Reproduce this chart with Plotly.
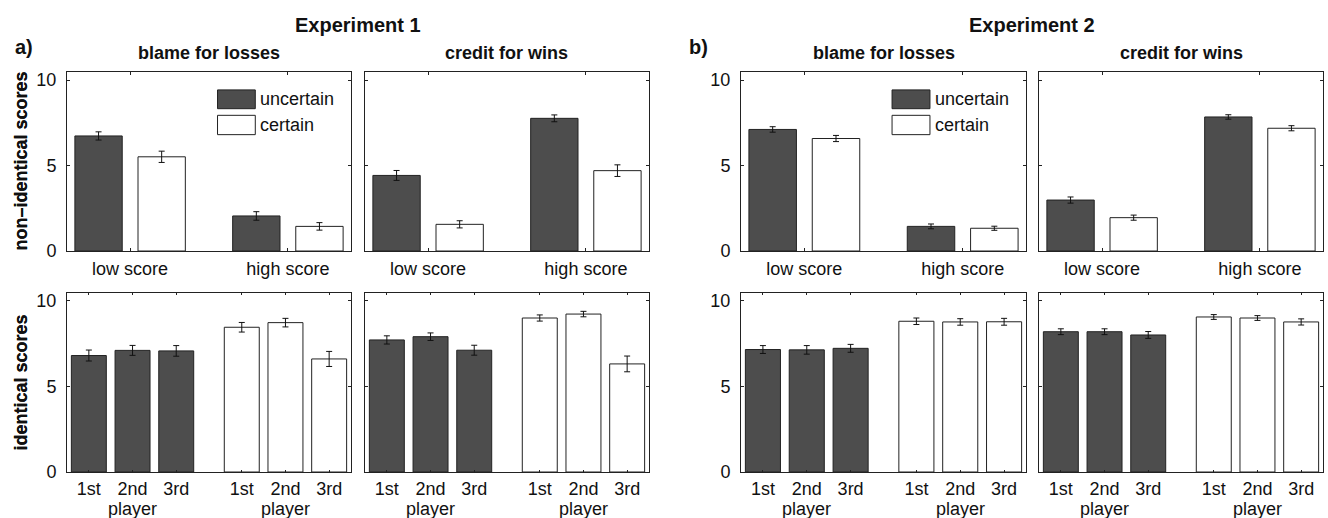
import plotly.graph_objects as go

# ---------------- data ----------------
score_cats = ["low score", "high score"]
player_labels = ["1st", "2nd", "3rd"]
conditions = ["uncertain", "certain"]
experiments = ["Experiment 1", "Experiment 2"]
panel_letters = ["a)", "b)"]
measures = ["blame for losses", "credit for wins"]

# top row: non-identical scores  [experiment][measure][condition] -> values per score category
nonid_mean = {
    ("Experiment 1", "blame for losses"): {"uncertain": [6.73, 2.05], "certain": [5.51, 1.44]},
    ("Experiment 1", "credit for wins"):  {"uncertain": [4.42, 7.76], "certain": [1.56, 4.70]},
    ("Experiment 2", "blame for losses"): {"uncertain": [7.11, 1.44], "certain": [6.58, 1.33]},
    ("Experiment 2", "credit for wins"):  {"uncertain": [2.98, 7.84], "certain": [1.95, 7.18]},
}
nonid_err = {
    ("Experiment 1", "blame for losses"): {"uncertain": [0.24, 0.25], "certain": [0.33, 0.22]},
    ("Experiment 1", "credit for wins"):  {"uncertain": [0.29, 0.20], "certain": [0.21, 0.34]},
    ("Experiment 2", "blame for losses"): {"uncertain": [0.16, 0.14], "certain": [0.18, 0.12]},
    ("Experiment 2", "credit for wins"):  {"uncertain": [0.18, 0.13], "certain": [0.15, 0.15]},
}
# bottom row: identical scores, per player (1st, 2nd, 3rd)
id_mean = {
    ("Experiment 1", "blame for losses"): {"uncertain": [6.80, 7.10, 7.07], "certain": [8.45, 8.72, 6.60]},
    ("Experiment 1", "credit for wins"):  {"uncertain": [7.71, 7.90, 7.11], "certain": [8.99, 9.22, 6.31]},
    ("Experiment 2", "blame for losses"): {"uncertain": [7.15, 7.13, 7.22], "certain": [8.80, 8.76, 8.77]},
    ("Experiment 2", "credit for wins"):  {"uncertain": [8.19, 8.19, 8.00], "certain": [9.05, 8.99, 8.76]},
}
id_err = {
    ("Experiment 1", "blame for losses"): {"uncertain": [0.32, 0.29, 0.31], "certain": [0.28, 0.25, 0.44]},
    ("Experiment 1", "credit for wins"):  {"uncertain": [0.24, 0.22, 0.29], "certain": [0.18, 0.16, 0.46]},
    ("Experiment 2", "blame for losses"): {"uncertain": [0.23, 0.25, 0.23], "certain": [0.19, 0.19, 0.20]},
    ("Experiment 2", "credit for wins"):  {"uncertain": [0.17, 0.17, 0.20], "certain": [0.14, 0.14, 0.18]},
}
y_ticks = [0, 5, 10]

# ---------------- style / layout ----------------
W, H = 1328, 518
colors = {"uncertain": "#4d4d4d", "certain": "#ffffff"}
edge = "#222222"
FONT = "Liberation Sans, Arial, Helvetica, sans-serif"

# panel pixel boxes (left, right)
col_px = [(67, 351), (365, 649), (741, 1026), (1039, 1323)]
top_px = (72, 251)
bot_px = (293, 472)

def xd(p):
    return [p[0] / W, p[1] / W]

def yd(p):
    return [1 - p[1] / H, 1 - p[0] / H]

def sfx(i):
    return "" if i == 1 else str(i)

# x positions of player bars in bottom row (layout spacing)
group_start = {"uncertain": 1.0, "certain": 4.5}
player_pos = {c: [group_start[c] + i for i in range(len(player_labels))] for c in conditions}

fig = go.Figure()
layout = dict(
    width=W, height=H, autosize=False,
    margin=dict(l=0, r=0, t=0, b=0, pad=0),
    paper_bgcolor="white", plot_bgcolor="white",
    barmode="group", bargap=0.2, bargroupgap=0.25,
    showlegend=False,
    font=dict(family=FONT, size=18, color="#111111"),
)

annotations = []
shapes = []

axis_common = dict(
    showgrid=False, zeroline=False, showline=True, linecolor="#222222", linewidth=1,
    mirror="allticks", ticks="inside", ticklen=3, tickcolor="#222222", tickwidth=1,
    tickfont=dict(family=FONT, size=18, color="#111111"), automargin=False,
)

for ei, exp in enumerate(experiments):
    for mi, meas in enumerate(measures):
        col = ei * 2 + mi
        key = (exp, meas)
        ti = 2 * col + 1
        bi = 2 * col + 2
        xt, yt = "x" + sfx(ti), "y" + sfx(ti)
        xb, yb = "x" + sfx(bi), "y" + sfx(bi)
        for cond in conditions:
            fig.add_trace(go.Bar(
                x=score_cats, y=nonid_mean[key][cond], name=cond,
                marker=dict(color=colors[cond], line=dict(color=edge, width=1)),
                error_y=dict(type="data", array=nonid_err[key][cond], color="#111111",
                             thickness=1, width=3),
                xaxis=xt, yaxis=yt,
            ))
            fig.add_trace(go.Bar(
                x=player_pos[cond], y=id_mean[key][cond], name=cond,
                width=0.8, offset=-0.4,
                marker=dict(color=colors[cond], line=dict(color=edge, width=1)),
                error_y=dict(type="data", array=id_err[key][cond], color="#111111",
                             thickness=1, width=3),
                xaxis=xb, yaxis=yb,
            ))
        show_y = (mi == 0)
        layout["xaxis" + sfx(ti)] = dict(axis_common, domain=xd(col_px[col]), anchor=yt,
                                         type="category", range=[-0.4, 1.4],
                                         ticklabelstandoff=1)
        layout["yaxis" + sfx(ti)] = dict(axis_common, domain=yd(top_px), anchor=xt,
                                         range=[0, 10.47], tickvals=y_ticks,
                                         showticklabels=show_y, ticklabelstandoff=6)
        all_pos = player_pos["uncertain"] + player_pos["certain"]
        layout["xaxis" + sfx(bi)] = dict(axis_common, domain=xd(col_px[col]), anchor=yb,
                                         range=[0.5, 7.0], tickvals=all_pos,
                                         ticktext=player_labels + player_labels,
                                         ticklen=2, ticklabelstandoff=0)
        layout["yaxis" + sfx(bi)] = dict(axis_common, domain=yd(bot_px), anchor=xb,
                                         range=[0, 10.45], tickvals=y_ticks,
                                         showticklabels=show_y, ticklabelstandoff=6)
        annotations.append(dict(text=f"<b>{meas}</b>", xref="paper", yref="paper",
                                x=sum(col_px[col]) / 2 / W, y=1 - 53 / H,
                                showarrow=False, xanchor="center", yanchor="middle",
                                font=dict(size=18, family=FONT, color="#111111")))
        for cond in conditions:
            annotations.append(dict(text="player", xref=xb, yref="paper",
                                    x=player_pos[cond][1], y=1 - 509 / H,
                                    showarrow=False, xanchor="center", yanchor="middle",
                                    font=dict(size=18, family=FONT, color="#111111")))
        if show_y:
            for txt, yp in [("non–identical scores", top_px), ("identical scores", bot_px)]:
                annotations.append(dict(text=f"<b>{txt}</b>", xref="paper", yref="paper",
                                        x=20 / W, y=1 - (yp[0] + yp[1]) / 2 / H,
                                        textangle=-90, showarrow=False,
                                        xanchor="center", yanchor="middle",
                                        font=dict(size=18, family=FONT, color="#111111")))
            for k, cond in enumerate(conditions):
                y0 = [0.795, 0.65][k]
                y1 = [0.90, 0.758][k]
                shapes.append(dict(type="rect", xref=f"{xt} domain", yref=f"{yt} domain",
                                   x0=0.53, x1=0.663, y0=y0, y1=y1,
                                   fillcolor=colors[cond], line=dict(color=edge, width=1)))
                annotations.append(dict(text=cond, xref=f"{xt} domain", yref=f"{yt} domain",
                                        x=0.672, y=(y0 + y1) / 2, showarrow=False,
                                        xanchor="left", yanchor="middle",
                                        font=dict(size=18, family=FONT, color="#111111")))
    left = col_px[2 * ei][0]
    right = col_px[2 * ei + 1][1]
    annotations.append(dict(text=f"<b>{exp}</b>", xref="paper", yref="paper",
                            x=(left + right) / 2 / W, y=1 - 25 / H, showarrow=False,
                            xanchor="center", yanchor="middle",
                            font=dict(size=20, family=FONT, color="#111111")))
    annotations.append(dict(text=f"<b>{panel_letters[ei]}</b>", xref="paper", yref="paper",
                            x=(left - 54) / W, y=1 - 47 / H, showarrow=False,
                            xanchor="left", yanchor="middle",
                            font=dict(size=20, family=FONT, color="#111111")))

layout["annotations"] = annotations
layout["shapes"] = shapes
fig.update_layout(**layout)

page_fix = (
    "var s=document.createElement('style');"
    "s.textContent='html,body{margin:0;padding:0;width:1328px;height:518px;overflow:hidden;}"
    "body>div{margin:0;padding:0;line-height:0;height:518px;}';"
    "document.head.appendChild(s);"
)
fig.write_html(
    "out.html",
    config={"responsive": False, "displayModeBar": False},
    post_script=page_fix,
)
